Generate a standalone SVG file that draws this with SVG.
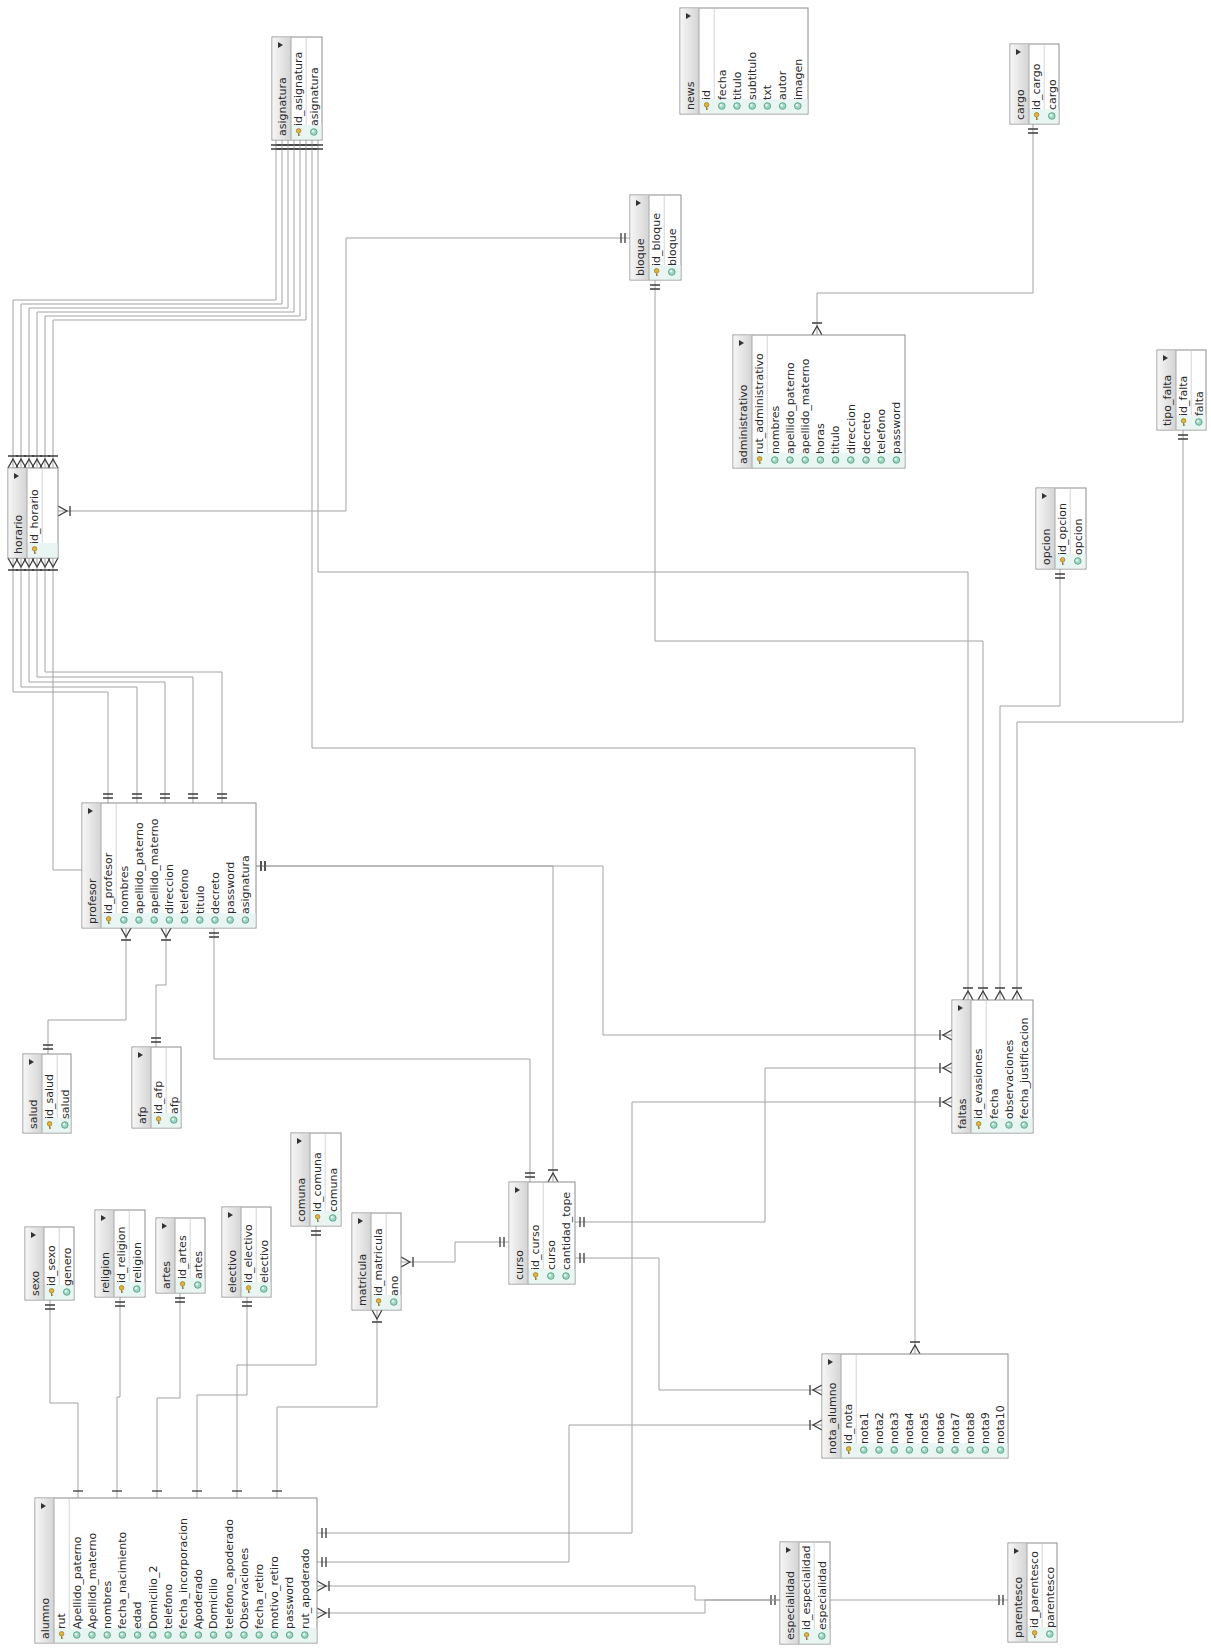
<svg xmlns="http://www.w3.org/2000/svg" xmlns:xlink="http://www.w3.org/1999/xlink" width="1211" height="1652" viewBox="0 0 1211 1652">
<style>
.box{fill:#fff;stroke:#8c8c8c;stroke-width:1}
.hdr{fill:url(#hg)}
.band{fill:#e9f5f2}
.dv{stroke:#a8a8a8;stroke-width:1}
.pk{stroke:#d4d4d4;stroke-width:1}
.tri{fill:#333}
text{font-family:"DejaVu Sans","Liberation Sans",sans-serif;font-size:11px;fill:#2a2a2a}
.c{fill:none;stroke:#a3a3a3;stroke-width:1}
.mk{fill:none;stroke:#3c3c3c;stroke-width:1.3}
</style>
<defs>
<linearGradient id="hg" x1="0" y1="0" x2="1" y2="0">
<stop offset="0" stop-color="#f6f6f6"/><stop offset="1" stop-color="#d4d4d4"/>
</linearGradient>
<marker id="one2" markerUnits="userSpaceOnUse" viewBox="-15 -8 16 16" markerWidth="16" markerHeight="16" refX="0" refY="0" orient="auto-start-reverse" overflow="visible"><path class="mk" d="M-5,-5V5M-9,-5V5"/></marker>
<marker id="one1" markerUnits="userSpaceOnUse" viewBox="-15 -8 16 16" markerWidth="16" markerHeight="16" refX="0" refY="0" orient="auto-start-reverse" overflow="visible"><path class="mk" d="M-7,-5V5"/></marker>
<marker id="many" markerUnits="userSpaceOnUse" viewBox="-15 -8 16 16" markerWidth="16" markerHeight="16" refX="0" refY="0" orient="auto-start-reverse" overflow="visible"><path class="mk" d="M0,-5L-9,0L0,5M-12,-5V5"/></marker>
<g id="ki"><circle cx="0" cy="-1.2" r="2.3" fill="#e3b43a" stroke="#8a6a1a" stroke-width="0.6"/><path d="M0,1v3M0,3h1.6" stroke="#8a6a1a" stroke-width="0.9" fill="none"/></g>
<g id="ci"><circle r="3.3" fill="#9fd6c2" stroke="#4d9a7c" stroke-width="0.8"/><circle cx="-0.8" cy="-0.8" r="1.2" fill="#e6f7f0"/></g>
</defs>
<rect width="1211" height="1652" fill="#fff"/>

<g id="connectors">
<path class="c" marker-start="url(#one2)" marker-end="url(#many)" d="M276,140V300H13V468"/>
<path class="c" marker-start="url(#one2)" marker-end="url(#many)" d="M282,140V304H21V468"/>
<path class="c" marker-start="url(#one2)" marker-end="url(#many)" d="M288,140V308H29V468"/>
<path class="c" marker-start="url(#one2)" marker-end="url(#many)" d="M294,140V312H37V468"/>
<path class="c" marker-start="url(#one2)" marker-end="url(#many)" d="M300,140V316H45V468"/>
<path class="c" marker-start="url(#one2)" marker-end="url(#many)" d="M306,140V320H53V468"/>
<path class="c" marker-start="url(#many)" marker-end="url(#one2)" d="M13,558V692H108V803"/>
<path class="c" marker-start="url(#many)" marker-end="url(#one2)" d="M21,558V687H137V803"/>
<path class="c" marker-start="url(#many)" marker-end="url(#one2)" d="M29,558V682H165V803"/>
<path class="c" marker-start="url(#many)" marker-end="url(#one2)" d="M37,558V677H193V803"/>
<path class="c" marker-start="url(#many)" marker-end="url(#one2)" d="M45,558V672H222V803"/>
<path class="c" marker-start="url(#many)" d="M53,558V870H82"/>
<path class="c" marker-start="url(#one2)" marker-end="url(#many)" d="M630,238H346V511H58"/>
<path class="c" marker-start="url(#one2)" marker-end="url(#many)" d="M655,280V641H983V1000"/>
<path class="c" marker-start="url(#one2)" marker-end="url(#many)" d="M318,140V572H968V1000"/>
<path class="c" marker-start="url(#one2)" marker-end="url(#many)" d="M312,140V748H915V1354"/>
<path class="c" marker-start="url(#one2)" marker-end="url(#many)" d="M1060,569V706H1000V1000"/>
<path class="c" marker-start="url(#one2)" marker-end="url(#many)" d="M1183,430V722H1017V1000"/>
<path class="c" marker-start="url(#one2)" marker-end="url(#many)" d="M1033,124V293H817V335"/>
<path class="c" marker-start="url(#one2)" marker-end="url(#many)" d="M256,866H553V1182"/>
<path class="c" marker-start="url(#one2)" marker-end="url(#many)" d="M256,866H603V1035H952"/>
<path class="c" marker-start="url(#one2)" marker-end="url(#one2)" d="M214,928V1059H530V1182"/>
<path class="c" marker-start="url(#one2)" marker-end="url(#many)" d="M48,1054V1020H126V928"/>
<path class="c" marker-start="url(#one2)" marker-end="url(#many)" d="M156,1047V985H166V928"/>
<path class="c" marker-start="url(#one2)" marker-end="url(#many)" d="M575,1222H765V1068H952"/>
<path class="c" marker-start="url(#one2)" marker-end="url(#many)" d="M575,1258H659V1390H822"/>
<path class="c" marker-start="url(#one2)" marker-end="url(#many)" d="M317,1533H632V1102H952"/>
<path class="c" marker-start="url(#one2)" marker-end="url(#many)" d="M317,1562H569V1425H822"/>
<path class="c" marker-start="url(#one2)" marker-end="url(#many)" d="M780,1600H695V1586H317"/>
<path class="c" marker-start="url(#one2)" marker-end="url(#many)" d="M1008,1600H705V1613H317"/>
<path class="c" marker-start="url(#many)" marker-end="url(#one2)" d="M401,1262H455V1242H509"/>
<path class="c" marker-start="url(#one2)" marker-end="url(#one1)" d="M50,1300V1403H78V1498"/>
<path class="c" marker-start="url(#one2)" marker-end="url(#one1)" d="M120,1297V1397H117V1498"/>
<path class="c" marker-start="url(#one2)" marker-end="url(#one1)" d="M180,1293V1398H157V1498"/>
<path class="c" marker-start="url(#one2)" marker-end="url(#one1)" d="M247,1297V1395H197V1498"/>
<path class="c" marker-start="url(#one2)" marker-end="url(#one1)" d="M316,1226V1365H237V1498"/>
<path class="c" marker-start="url(#many)" marker-end="url(#one1)" d="M377,1310V1407H277V1498"/>
</g>

<g id="asignatura" transform="translate(272,37)">
<rect class="box" width="50" height="103"/><rect class="hdr" x="0.5" y="0.5" width="18.5" height="102"/><rect class="band" x="19" y="88" width="30.5" height="14.5"/>
<line class="dv" x1="19" y1="0" x2="19" y2="103"/><line class="pk" x1="34.2" y1="1" x2="34.2" y2="88"/><path class="tri" d="M6,5v6l5,-3z"/>
<text transform="translate(13.5,99) rotate(-90)">asignatura</text>
<use href="#ki" x="26.6" y="95"/><text transform="translate(30.4,89) rotate(-90)">id_asignatura</text>
<use href="#ci" x="41.8" y="95"/><text transform="translate(45.6,89) rotate(-90)">asignatura</text>
</g>

<g id="news" transform="translate(680,8)">
<rect class="box" width="128" height="106"/><rect class="hdr" x="0.5" y="0.5" width="18.5" height="105"/><rect class="band" x="19" y="91" width="108.5" height="14.5"/>
<line class="dv" x1="19" y1="0" x2="19" y2="106"/><line class="pk" x1="34.2" y1="1" x2="34.2" y2="91"/><path class="tri" d="M6,5v6l5,-3z"/>
<text transform="translate(13.5,102) rotate(-90)">news</text>
<use href="#ki" x="26.6" y="98"/><text transform="translate(30.4,92) rotate(-90)">id</text>
<use href="#ci" x="41.8" y="98"/><text transform="translate(45.6,92) rotate(-90)">fecha</text>
<use href="#ci" x="57" y="98"/><text transform="translate(60.8,92) rotate(-90)">titulo</text>
<use href="#ci" x="72.2" y="98"/><text transform="translate(76,92) rotate(-90)">subtitulo</text>
<use href="#ci" x="87.4" y="98"/><text transform="translate(91.2,92) rotate(-90)">txt</text>
<use href="#ci" x="102.6" y="98"/><text transform="translate(106.4,92) rotate(-90)">autor</text>
<use href="#ci" x="117.8" y="98"/><text transform="translate(121.6,92) rotate(-90)">imagen</text>
</g>

<g id="cargo" transform="translate(1010,44)">
<rect class="box" width="49" height="80"/><rect class="hdr" x="0.5" y="0.5" width="18.5" height="79"/><rect class="band" x="19" y="65" width="29.5" height="14.5"/>
<line class="dv" x1="19" y1="0" x2="19" y2="80"/><line class="pk" x1="34.2" y1="1" x2="34.2" y2="65"/><path class="tri" d="M6,5v6l5,-3z"/>
<text transform="translate(13.5,76) rotate(-90)">cargo</text>
<use href="#ki" x="26.6" y="72"/><text transform="translate(30.4,66) rotate(-90)">id_cargo</text>
<use href="#ci" x="41.8" y="72"/><text transform="translate(45.6,66) rotate(-90)">cargo</text>
</g>

<g id="bloque" transform="translate(630,195)">
<rect class="box" width="51" height="85"/><rect class="hdr" x="0.5" y="0.5" width="18.5" height="84"/><rect class="band" x="19" y="70" width="31.5" height="14.5"/>
<line class="dv" x1="19" y1="0" x2="19" y2="85"/><line class="pk" x1="34.2" y1="1" x2="34.2" y2="70"/><path class="tri" d="M6,5v6l5,-3z"/>
<text transform="translate(13.5,81) rotate(-90)">bloque</text>
<use href="#ki" x="26.6" y="77"/><text transform="translate(30.4,71) rotate(-90)">id_bloque</text>
<use href="#ci" x="41.8" y="77"/><text transform="translate(45.6,71) rotate(-90)">bloque</text>
</g>

<g id="administrativo" transform="translate(733,335)">
<rect class="box" width="172" height="133"/><rect class="hdr" x="0.5" y="0.5" width="18.5" height="132"/><rect class="band" x="19" y="118" width="152.5" height="14.5"/>
<line class="dv" x1="19" y1="0" x2="19" y2="133"/><line class="pk" x1="34.2" y1="1" x2="34.2" y2="118"/><path class="tri" d="M6,5v6l5,-3z"/>
<text transform="translate(13.5,129) rotate(-90)">administrativo</text>
<use href="#ki" x="26.6" y="125"/><text transform="translate(30.4,119) rotate(-90)">rut_administrativo</text>
<use href="#ci" x="41.8" y="125"/><text transform="translate(45.6,119) rotate(-90)">nombres</text>
<use href="#ci" x="57" y="125"/><text transform="translate(60.8,119) rotate(-90)">apellido_paterno</text>
<use href="#ci" x="72.2" y="125"/><text transform="translate(76,119) rotate(-90)">apellido_materno</text>
<use href="#ci" x="87.4" y="125"/><text transform="translate(91.2,119) rotate(-90)">horas</text>
<use href="#ci" x="102.6" y="125"/><text transform="translate(106.4,119) rotate(-90)">titulo</text>
<use href="#ci" x="117.8" y="125"/><text transform="translate(121.6,119) rotate(-90)">direccion</text>
<use href="#ci" x="133" y="125"/><text transform="translate(136.8,119) rotate(-90)">decreto</text>
<use href="#ci" x="148.2" y="125"/><text transform="translate(152,119) rotate(-90)">telefono</text>
<use href="#ci" x="163.4" y="125"/><text transform="translate(167.2,119) rotate(-90)">password</text>
</g>

<g id="tipo_falta" transform="translate(1157,350)">
<rect class="box" width="49" height="80"/><rect class="hdr" x="0.5" y="0.5" width="18.5" height="79"/><rect class="band" x="19" y="65" width="29.5" height="14.5"/>
<line class="dv" x1="19" y1="0" x2="19" y2="80"/><line class="pk" x1="34.2" y1="1" x2="34.2" y2="65"/><path class="tri" d="M6,5v6l5,-3z"/>
<text transform="translate(13.5,76) rotate(-90)">tipo_falta</text>
<use href="#ki" x="26.6" y="72"/><text transform="translate(30.4,66) rotate(-90)">id_falta</text>
<use href="#ci" x="41.8" y="72"/><text transform="translate(45.6,66) rotate(-90)">falta</text>
</g>

<g id="opcion" transform="translate(1036,488)">
<rect class="box" width="50" height="81"/><rect class="hdr" x="0.5" y="0.5" width="18.5" height="80"/><rect class="band" x="19" y="66" width="30.5" height="14.5"/>
<line class="dv" x1="19" y1="0" x2="19" y2="81"/><line class="pk" x1="34.2" y1="1" x2="34.2" y2="66"/><path class="tri" d="M6,5v6l5,-3z"/>
<text transform="translate(13.5,77) rotate(-90)">opcion</text>
<use href="#ki" x="26.6" y="73"/><text transform="translate(30.4,67) rotate(-90)">id_opcion</text>
<use href="#ci" x="41.8" y="73"/><text transform="translate(45.6,67) rotate(-90)">opcion</text>
</g>

<g id="horario" transform="translate(8,468)">
<rect class="box" width="50" height="90"/><rect class="hdr" x="0.5" y="0.5" width="18.5" height="89"/><rect class="band" x="19" y="75" width="30.5" height="14.5"/>
<line class="dv" x1="19" y1="0" x2="19" y2="90"/><line class="pk" x1="34.2" y1="1" x2="34.2" y2="75"/><path class="tri" d="M6,5v6l5,-3z"/>
<text transform="translate(13.5,86) rotate(-90)">horario</text>
<use href="#ki" x="26.6" y="82"/><text transform="translate(30.4,76) rotate(-90)">id_horario</text>
</g>

<g id="profesor" transform="translate(82,803)">
<rect class="box" width="174" height="125"/><rect class="hdr" x="0.5" y="0.5" width="18.5" height="124"/><rect class="band" x="19" y="110" width="154.5" height="14.5"/>
<line class="dv" x1="19" y1="0" x2="19" y2="125"/><line class="pk" x1="34.2" y1="1" x2="34.2" y2="110"/><path class="tri" d="M6,5v6l5,-3z"/>
<text transform="translate(13.5,121) rotate(-90)">profesor</text>
<use href="#ki" x="26.6" y="117"/><text transform="translate(30.4,111) rotate(-90)">id_profesor</text>
<use href="#ci" x="41.8" y="117"/><text transform="translate(45.6,111) rotate(-90)">nombres</text>
<use href="#ci" x="57" y="117"/><text transform="translate(60.8,111) rotate(-90)">apellido_paterno</text>
<use href="#ci" x="72.2" y="117"/><text transform="translate(76,111) rotate(-90)">apellido_materno</text>
<use href="#ci" x="87.4" y="117"/><text transform="translate(91.2,111) rotate(-90)">direccion</text>
<use href="#ci" x="102.6" y="117"/><text transform="translate(106.4,111) rotate(-90)">telefono</text>
<use href="#ci" x="117.8" y="117"/><text transform="translate(121.6,111) rotate(-90)">titulo</text>
<use href="#ci" x="133" y="117"/><text transform="translate(136.8,111) rotate(-90)">decreto</text>
<use href="#ci" x="148.2" y="117"/><text transform="translate(152,111) rotate(-90)">password</text>
<use href="#ci" x="163.4" y="117"/><text transform="translate(167.2,111) rotate(-90)">asignatura</text>
</g>

<g id="salud" transform="translate(23,1054)">
<rect class="box" width="48" height="79"/><rect class="hdr" x="0.5" y="0.5" width="18.5" height="78"/><rect class="band" x="19" y="64" width="28.5" height="14.5"/>
<line class="dv" x1="19" y1="0" x2="19" y2="79"/><line class="pk" x1="34.2" y1="1" x2="34.2" y2="64"/><path class="tri" d="M6,5v6l5,-3z"/>
<text transform="translate(13.5,75) rotate(-90)">salud</text>
<use href="#ki" x="26.6" y="71"/><text transform="translate(30.4,65) rotate(-90)">id_salud</text>
<use href="#ci" x="41.8" y="71"/><text transform="translate(45.6,65) rotate(-90)">salud</text>
</g>

<g id="afp" transform="translate(132,1047)">
<rect class="box" width="49" height="81"/><rect class="hdr" x="0.5" y="0.5" width="18.5" height="80"/><rect class="band" x="19" y="66" width="29.5" height="14.5"/>
<line class="dv" x1="19" y1="0" x2="19" y2="81"/><line class="pk" x1="34.2" y1="1" x2="34.2" y2="66"/><path class="tri" d="M6,5v6l5,-3z"/>
<text transform="translate(13.5,77) rotate(-90)">afp</text>
<use href="#ki" x="26.6" y="73"/><text transform="translate(30.4,67) rotate(-90)">id_afp</text>
<use href="#ci" x="41.8" y="73"/><text transform="translate(45.6,67) rotate(-90)">afp</text>
</g>

<g id="sexo" transform="translate(25,1227)">
<rect class="box" width="49" height="73"/><rect class="hdr" x="0.5" y="0.5" width="18.5" height="72"/><rect class="band" x="19" y="58" width="29.5" height="14.5"/>
<line class="dv" x1="19" y1="0" x2="19" y2="73"/><line class="pk" x1="34.2" y1="1" x2="34.2" y2="58"/><path class="tri" d="M6,5v6l5,-3z"/>
<text transform="translate(13.5,69) rotate(-90)">sexo</text>
<use href="#ki" x="26.6" y="65"/><text transform="translate(30.4,59) rotate(-90)">id_sexo</text>
<use href="#ci" x="41.8" y="65"/><text transform="translate(45.6,59) rotate(-90)">genero</text>
</g>

<g id="religion" transform="translate(95,1210)">
<rect class="box" width="50" height="87"/><rect class="hdr" x="0.5" y="0.5" width="18.5" height="86"/><rect class="band" x="19" y="72" width="30.5" height="14.5"/>
<line class="dv" x1="19" y1="0" x2="19" y2="87"/><line class="pk" x1="34.2" y1="1" x2="34.2" y2="72"/><path class="tri" d="M6,5v6l5,-3z"/>
<text transform="translate(13.5,83) rotate(-90)">religion</text>
<use href="#ki" x="26.6" y="79"/><text transform="translate(30.4,73) rotate(-90)">id_religion</text>
<use href="#ci" x="41.8" y="79"/><text transform="translate(45.6,73) rotate(-90)">religion</text>
</g>

<g id="artes" transform="translate(156,1218)">
<rect class="box" width="49" height="75"/><rect class="hdr" x="0.5" y="0.5" width="18.5" height="74"/><rect class="band" x="19" y="60" width="29.5" height="14.5"/>
<line class="dv" x1="19" y1="0" x2="19" y2="75"/><line class="pk" x1="34.2" y1="1" x2="34.2" y2="60"/><path class="tri" d="M6,5v6l5,-3z"/>
<text transform="translate(13.5,71) rotate(-90)">artes</text>
<use href="#ki" x="26.6" y="67"/><text transform="translate(30.4,61) rotate(-90)">id_artes</text>
<use href="#ci" x="41.8" y="67"/><text transform="translate(45.6,61) rotate(-90)">artes</text>
</g>

<g id="electivo" transform="translate(222,1207)">
<rect class="box" width="49" height="90"/><rect class="hdr" x="0.5" y="0.5" width="18.5" height="89"/><rect class="band" x="19" y="75" width="29.5" height="14.5"/>
<line class="dv" x1="19" y1="0" x2="19" y2="90"/><line class="pk" x1="34.2" y1="1" x2="34.2" y2="75"/><path class="tri" d="M6,5v6l5,-3z"/>
<text transform="translate(13.5,86) rotate(-90)">electivo</text>
<use href="#ki" x="26.6" y="82"/><text transform="translate(30.4,76) rotate(-90)">id_electivo</text>
<use href="#ci" x="41.8" y="82"/><text transform="translate(45.6,76) rotate(-90)">electivo</text>
</g>

<g id="comuna" transform="translate(291,1133)">
<rect class="box" width="50" height="93"/><rect class="hdr" x="0.5" y="0.5" width="18.5" height="92"/><rect class="band" x="19" y="78" width="30.5" height="14.5"/>
<line class="dv" x1="19" y1="0" x2="19" y2="93"/><line class="pk" x1="34.2" y1="1" x2="34.2" y2="78"/><path class="tri" d="M6,5v6l5,-3z"/>
<text transform="translate(13.5,89) rotate(-90)">comuna</text>
<use href="#ki" x="26.6" y="85"/><text transform="translate(30.4,79) rotate(-90)">id_comuna</text>
<use href="#ci" x="41.8" y="85"/><text transform="translate(45.6,79) rotate(-90)">comuna</text>
</g>

<g id="matricula" transform="translate(352,1213)">
<rect class="box" width="49" height="97"/><rect class="hdr" x="0.5" y="0.5" width="18.5" height="96"/><rect class="band" x="19" y="82" width="29.5" height="14.5"/>
<line class="dv" x1="19" y1="0" x2="19" y2="97"/><line class="pk" x1="34.2" y1="1" x2="34.2" y2="82"/><path class="tri" d="M6,5v6l5,-3z"/>
<text transform="translate(13.5,93) rotate(-90)">matricula</text>
<use href="#ki" x="26.6" y="89"/><text transform="translate(30.4,83) rotate(-90)">id_matricula</text>
<use href="#ci" x="41.8" y="89"/><text transform="translate(45.6,83) rotate(-90)">ano</text>
</g>

<g id="curso" transform="translate(509,1182)">
<rect class="box" width="66" height="102"/><rect class="hdr" x="0.5" y="0.5" width="18.5" height="101"/><rect class="band" x="19" y="87" width="46.5" height="14.5"/>
<line class="dv" x1="19" y1="0" x2="19" y2="102"/><line class="pk" x1="34.2" y1="1" x2="34.2" y2="87"/><path class="tri" d="M6,5v6l5,-3z"/>
<text transform="translate(13.5,98) rotate(-90)">curso</text>
<use href="#ki" x="26.6" y="94"/><text transform="translate(30.4,88) rotate(-90)">id_curso</text>
<use href="#ci" x="41.8" y="94"/><text transform="translate(45.6,88) rotate(-90)">curso</text>
<use href="#ci" x="57" y="94"/><text transform="translate(60.8,88) rotate(-90)">cantidad_tope</text>
</g>

<g id="faltas" transform="translate(952,1000)">
<rect class="box" width="81" height="133"/><rect class="hdr" x="0.5" y="0.5" width="18.5" height="132"/><rect class="band" x="19" y="118" width="61.5" height="14.5"/>
<line class="dv" x1="19" y1="0" x2="19" y2="133"/><line class="pk" x1="34.2" y1="1" x2="34.2" y2="118"/><path class="tri" d="M6,5v6l5,-3z"/>
<text transform="translate(13.5,129) rotate(-90)">faltas</text>
<use href="#ki" x="26.6" y="125"/><text transform="translate(30.4,119) rotate(-90)">id_evasiones</text>
<use href="#ci" x="41.8" y="125"/><text transform="translate(45.6,119) rotate(-90)">fecha</text>
<use href="#ci" x="57" y="125"/><text transform="translate(60.8,119) rotate(-90)">observaciones</text>
<use href="#ci" x="72.2" y="125"/><text transform="translate(76,119) rotate(-90)">fecha_justificacion</text>
</g>

<g id="nota_alumno" transform="translate(822,1354)">
<rect class="box" width="186" height="104"/><rect class="hdr" x="0.5" y="0.5" width="18.5" height="103"/><rect class="band" x="19" y="89" width="166.5" height="14.5"/>
<line class="dv" x1="19" y1="0" x2="19" y2="104"/><line class="pk" x1="34.2" y1="1" x2="34.2" y2="89"/><path class="tri" d="M6,5v6l5,-3z"/>
<text transform="translate(13.5,100) rotate(-90)">nota_alumno</text>
<use href="#ki" x="26.6" y="96"/><text transform="translate(30.4,90) rotate(-90)">id_nota</text>
<use href="#ci" x="41.8" y="96"/><text transform="translate(45.6,90) rotate(-90)">nota1</text>
<use href="#ci" x="57" y="96"/><text transform="translate(60.8,90) rotate(-90)">nota2</text>
<use href="#ci" x="72.2" y="96"/><text transform="translate(76,90) rotate(-90)">nota3</text>
<use href="#ci" x="87.4" y="96"/><text transform="translate(91.2,90) rotate(-90)">nota4</text>
<use href="#ci" x="102.6" y="96"/><text transform="translate(106.4,90) rotate(-90)">nota5</text>
<use href="#ci" x="117.8" y="96"/><text transform="translate(121.6,90) rotate(-90)">nota6</text>
<use href="#ci" x="133" y="96"/><text transform="translate(136.8,90) rotate(-90)">nota7</text>
<use href="#ci" x="148.2" y="96"/><text transform="translate(152,90) rotate(-90)">nota8</text>
<use href="#ci" x="163.4" y="96"/><text transform="translate(167.2,90) rotate(-90)">nota9</text>
<use href="#ci" x="178.6" y="96"/><text transform="translate(182.4,90) rotate(-90)">nota10</text>
</g>

<g id="alumno" transform="translate(35,1498)">
<rect class="box" width="282" height="145"/><rect class="hdr" x="0.5" y="0.5" width="18.5" height="144"/><rect class="band" x="19" y="130" width="262.5" height="14.5"/>
<line class="dv" x1="19" y1="0" x2="19" y2="145"/><line class="pk" x1="34.2" y1="1" x2="34.2" y2="130"/><path class="tri" d="M6,5v6l5,-3z"/>
<text transform="translate(13.5,141) rotate(-90)">alumno</text>
<use href="#ki" x="26.6" y="137"/><text transform="translate(30.4,131) rotate(-90)">rut</text>
<use href="#ci" x="41.8" y="137"/><text transform="translate(45.6,131) rotate(-90)">Apellido_paterno</text>
<use href="#ci" x="57" y="137"/><text transform="translate(60.8,131) rotate(-90)">Apellido_materno</text>
<use href="#ci" x="72.2" y="137"/><text transform="translate(76,131) rotate(-90)">nombres</text>
<use href="#ci" x="87.4" y="137"/><text transform="translate(91.2,131) rotate(-90)">fecha_nacimiento</text>
<use href="#ci" x="102.6" y="137"/><text transform="translate(106.4,131) rotate(-90)">edad</text>
<use href="#ci" x="117.8" y="137"/><text transform="translate(121.6,131) rotate(-90)">Domicilio_2</text>
<use href="#ci" x="133" y="137"/><text transform="translate(136.8,131) rotate(-90)">telefono</text>
<use href="#ci" x="148.2" y="137"/><text transform="translate(152,131) rotate(-90)">fecha_incorporacion</text>
<use href="#ci" x="163.4" y="137"/><text transform="translate(167.2,131) rotate(-90)">Apoderado</text>
<use href="#ci" x="178.6" y="137"/><text transform="translate(182.4,131) rotate(-90)">Domicilio</text>
<use href="#ci" x="193.8" y="137"/><text transform="translate(197.6,131) rotate(-90)">telefono_apoderado</text>
<use href="#ci" x="209" y="137"/><text transform="translate(212.8,131) rotate(-90)">Observaciones</text>
<use href="#ci" x="224.2" y="137"/><text transform="translate(228,131) rotate(-90)">fecha_retiro</text>
<use href="#ci" x="239.4" y="137"/><text transform="translate(243.2,131) rotate(-90)">motivo_retiro</text>
<use href="#ci" x="254.6" y="137"/><text transform="translate(258.4,131) rotate(-90)">password</text>
<use href="#ci" x="269.8" y="137"/><text transform="translate(273.6,131) rotate(-90)">rut_apoderado</text>
</g>

<g id="especialidad" transform="translate(780,1542)">
<rect class="box" width="50" height="102"/><rect class="hdr" x="0.5" y="0.5" width="18.5" height="101"/><rect class="band" x="19" y="87" width="30.5" height="14.5"/>
<line class="dv" x1="19" y1="0" x2="19" y2="102"/><line class="pk" x1="34.2" y1="1" x2="34.2" y2="87"/><path class="tri" d="M6,5v6l5,-3z"/>
<text transform="translate(13.5,98) rotate(-90)">especialidad</text>
<use href="#ki" x="26.6" y="94"/><text transform="translate(30.4,88) rotate(-90)">id_especialidad</text>
<use href="#ci" x="41.8" y="94"/><text transform="translate(45.6,88) rotate(-90)">especialidad</text>
</g>

<g id="parentesco" transform="translate(1008,1543)">
<rect class="box" width="49" height="99"/><rect class="hdr" x="0.5" y="0.5" width="18.5" height="98"/><rect class="band" x="19" y="84" width="29.5" height="14.5"/>
<line class="dv" x1="19" y1="0" x2="19" y2="99"/><line class="pk" x1="34.2" y1="1" x2="34.2" y2="84"/><path class="tri" d="M6,5v6l5,-3z"/>
<text transform="translate(13.5,95) rotate(-90)">parentesco</text>
<use href="#ki" x="26.6" y="91"/><text transform="translate(30.4,85) rotate(-90)">id_parentesco</text>
<use href="#ci" x="41.8" y="91"/><text transform="translate(45.6,85) rotate(-90)">parentesco</text>
</g>
</svg>
